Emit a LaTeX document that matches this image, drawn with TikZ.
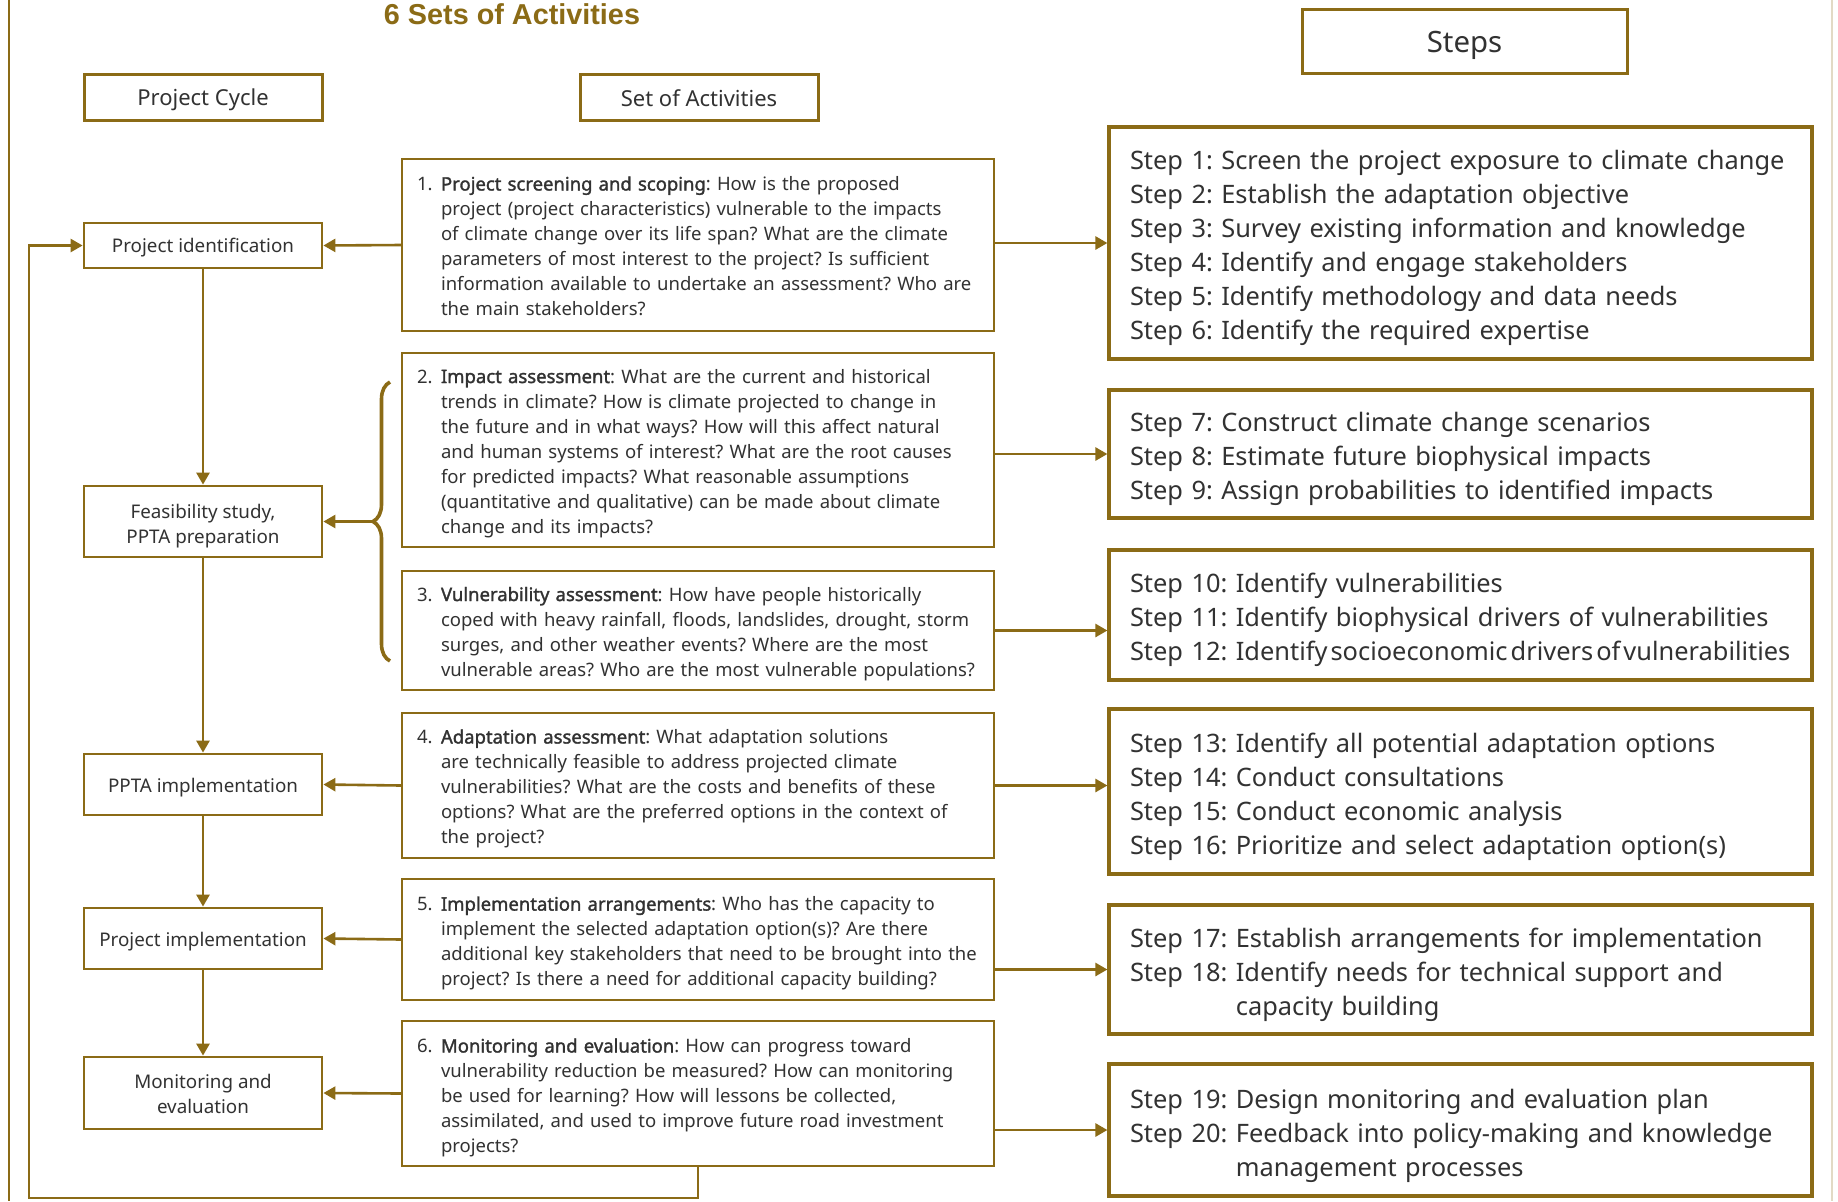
\documentclass[tikz,border=0pt]{standalone}
\usepackage{fontspec}
\setmainfont{Noto Sans}[AutoFakeBold=1.6]
\newfontfamily\titlefont{Liberation Sans}
\usetikzlibrary{arrows.meta,decorations.pathreplacing,calc}
\definecolor{gold}{RGB}{139,107,22}
\definecolor{txt}{RGB}{50,50,50}
\newcommand\numlab[1]{\makebox[12pt][l]{#1}}
\newcommand\myind{\hspace*{12pt}}
\newcommand\lowr[2]{\raisebox{-#1}[\height][\depth]{#2}}
\frenchspacing
\begin{document}
\frenchspacing
\begin{tikzpicture}[x=0.5pt,y=-0.5pt,
  hdr/.style={draw=gold, line width=1.5pt, fill=white, text=txt, inner sep=0pt},
  cyc/.style={draw=gold, line width=1.4pt, minimum width=119pt, align=center, text=txt,
    font=\fontsize{9.4}{12.5}\selectfont, inner sep=0pt},
  act/.style={draw=gold, line width=1pt, minimum width=296pt, text width=281pt,
    inner xsep=7.5pt, inner ysep=0pt, text=txt, font=\fontsize{9.25}{12.5}\selectfont},
  stp/.style={draw=gold, line width=1.6pt, minimum width=351.5pt, text width=330.5pt,
    inner xsep=10.5pt, inner ysep=0pt, text=txt, font=\fontsize{12.7}{17}\selectfont},
  con/.style={draw=gold, line width=1.3pt, -{Triangle[length=6pt,width=6.5pt]}}]
\useasboundingbox (0,0) rectangle (1838,1201);
\fill[white] (0,0) rectangle (1838,1201);
% frame
\draw[gold, line width=1pt] (9,0) -- (9,1201);
\draw[gold!25, line width=0.8pt] (1832,0) -- (1832,1201);
% title and headers
\node[font=\titlefont\bfseries\fontsize{14.4}{17}\selectfont, text=gold, anchor=base, inner sep=0pt] (title) at (512,24) {6 Sets of Activities};
\node[hdr, minimum width=162.5pt, minimum height=32pt, font=\fontsize{14.7}{17}\selectfont] (steps) at (1464.5,41) {\lowr{2pt}{Steps}};
\node[hdr, minimum width=119pt, minimum height=23pt, font=\fontsize{11}{13}\selectfont] (pc) at (203,97) {\lowr{1.6pt}{Project Cycle}};
\node[hdr, minimum width=119pt, minimum height=23pt, font=\fontsize{11}{13}\selectfont] (soa) at (699,97) {\lowr{0.5pt}{Set of Activities}};
% project cycle
\node[cyc, minimum height=22.5pt] (pi) at (203,245.5) {\lowr{1.2pt}{Project identification}};
\node[cyc, minimum height=35.5pt] (fs) at (203,521.5) {\lowr{2.2pt}{\begin{tabular}{@{}c@{}}Feasibility study,\\PPTA preparation\end{tabular}}};
\node[cyc, minimum height=30.5pt] (ppta) at (203,784.5) {\lowr{1.5pt}{PPTA implementation}};
\node[cyc, minimum height=30.5pt] (pimp) at (203,938.5) {\lowr{1.5pt}{Project implementation}};
\node[cyc, minimum height=36pt] (me) at (203,1093) {\lowr{1.5pt}{\begin{tabular}{@{}c@{}}Monitoring and\\evaluation\end{tabular}}};
% activities
\node[act, minimum height=86pt] (b1) at (698,245) {\noindent\lowr{1.5pt}{\begin{tabular}{@{}l@{}}
\numlab{1.}\textbf{Project screening and scoping}: How is the proposed\\
\myind project (project characteristics) vulnerable to the impacts\\
\myind of climate change over its life span? What are the climate\\
\myind parameters of most interest to the project? Is sufficient\\
\myind information available to undertake an assessment? Who are\\
\myind the main stakeholders?
\end{tabular}}};
\node[act, minimum height=97pt] (b2) at (698,450) {\noindent\lowr{1.5pt}{\begin{tabular}{@{}l@{}}
\numlab{2.}\textbf{Impact assessment}: What are the current and historical\\
\myind trends in climate? How is climate projected to change in\\
\myind the future and in what ways? How will this affect natural\\
\myind and human systems of interest? What are the root causes\\
\myind for predicted impacts? What reasonable assumptions\\
\myind (quantitative and qualitative) can be made about climate\\
\myind change and its impacts?
\end{tabular}}};
\node[act, minimum height=59.5pt] (b3) at (698,630.5) {\noindent\lowr{1.5pt}{\begin{tabular}{@{}l@{}}
\numlab{3.}\textbf{Vulnerability assessment}: How have people historically\\
\myind coped with heavy rainfall, floods, landslides, drought, storm\\
\myind surges, and other weather events? Where are the most\\
\myind vulnerable areas? Who are the most vulnerable populations?
\end{tabular}}};
\node[act, minimum height=72.5pt] (b4) at (698,785.5) {\noindent\lowr{1.5pt}{\begin{tabular}{@{}l@{}}
\numlab{4.}\textbf{Adaptation assessment}: What adaptation solutions\\
\myind are technically feasible to address projected climate\\
\myind vulnerabilities? What are the costs and benefits of these\\
\myind options? What are the preferred options in the context of\\
\myind the project?
\end{tabular}}};
\node[act, minimum height=60.5pt] (b5) at (698,939.5) {\noindent\lowr{1.8pt}{\begin{tabular}{@{}l@{}}
\numlab{5.}\textbf{Implementation arrangements}: Who has the capacity to\\
\myind implement the selected adaptation option(s)? Are there\\
\myind additional key stakeholders that need to be brought into the\\
\myind project? Is there a need for additional capacity building?
\end{tabular}}};
\node[act, minimum height=72.5pt] (b6) at (698,1093.5) {\noindent\lowr{2pt}{\begin{tabular}{@{}l@{}}
\numlab{6.}\textbf{Monitoring and evaluation}: How can progress toward\\
\myind vulnerability reduction be measured? How can monitoring\\
\myind be used for learning? How will lessons be collected,\\
\myind assimilated, and used to improve future road investment\\
\myind projects?
\end{tabular}}};
% steps
\node[stp, minimum height=116pt] (s1) at (1460.5,243) {\noindent\lowr{2.4pt}{\begin{tabular}{@{}l@{\ }l@{}}
Step 1: & Screen the project exposure to climate change\\
Step 2: & Establish the adaptation objective\\
Step 3: & Survey existing information and knowledge\\
Step 4: & Identify and engage stakeholders\\
Step 5: & Identify methodology and data needs\\
Step 6: & Identify the required expertise
\end{tabular}}};
\node[stp, minimum height=64pt] (s2) at (1460.5,454) {\noindent\lowr{2.4pt}{\begin{tabular}{@{}l@{\ }l@{}}
Step 7: & Construct climate change scenarios\\
Step 8: & Estimate future biophysical impacts\\
Step 9: & Assign probabilities to identified impacts
\end{tabular}}};
\node[stp, minimum height=65pt] (s3) at (1460.5,615) {\noindent\lowr{2.4pt}{\begin{tabular}{@{}l@{\ }l@{}}
Step 10: & Identify vulnerabilities\\
Step 11: & Identify biophysical drivers of vulnerabilities\\
Step 12: & {\spaceskip=0.12em\relax Identify socioeconomic drivers of vulnerabilities}
\end{tabular}}};
\node[stp, minimum height=82.5pt] (s4) at (1460.5,791.5) {\noindent\lowr{2.4pt}{\begin{tabular}{@{}l@{\ }l@{}}
Step 13: & Identify all potential adaptation options\\
Step 14: & Conduct consultations\\
Step 15: & Conduct economic analysis\\
Step 16: & Prioritize and select adaptation option(s)
\end{tabular}}};
\node[stp, minimum height=64.5pt] (s5) at (1460.5,969.5) {\noindent\lowr{2.4pt}{\begin{tabular}{@{}l@{\ }l@{}}
Step 17: & Establish arrangements for implementation\\
Step 18: & Identify needs for technical support and\\
 & capacity building
\end{tabular}}};
\node[stp, minimum height=66pt] (s6) at (1460.5,1130) {\noindent\lowr{2.6pt}{\begin{tabular}{@{}l@{\ }l@{}}
Step 19: & Design monitoring and evaluation plan\\
Step 20: & Feedback into policy-making and knowledge\\
 & management processes
\end{tabular}}};
% cycle arrows
\draw[con] (pi.south) -- (fs.north);
\draw[con] (fs.south) -- (ppta.north);
\draw[con] (ppta.south) -- (pimp.north);
\draw[con] (pimp.south) -- (me.north);
% activities to cycle
\draw[con] (b1.west) -- (pi.east);
\draw[gold, line width=1.8pt, decorate, decoration={brace, amplitude=8.5pt}] (390,661) -- (390,382);
\coordinate (bt) at (373,521.5);
\draw[con] (bt) -- (fs.east);
\draw[con] (b4.west) -- (ppta.east);
\draw[con] (b5.west) -- (pimp.east);
\draw[con] (b6.west) -- (me.east);
% activities to steps
\draw[con] (b1.east |- s1.west) -- (s1.west);
\draw[con] (b2.east |- s2.west) -- (s2.west);
\draw[con] (b3.east) -- (b3.east -| s3.west);
\draw[con] (b4.east) -- (b4.east -| s4.west);
\draw[con] (b5.east |- s5.west) -- (s5.west);
\draw[con] (b6.east |- s6.west) -- (s6.west);
% feedback loop
\coordinate (fb) at (29,1198);
\draw[con] (b6.south) |- (fb) |- (pi.west);
\end{tikzpicture}
\end{document}
